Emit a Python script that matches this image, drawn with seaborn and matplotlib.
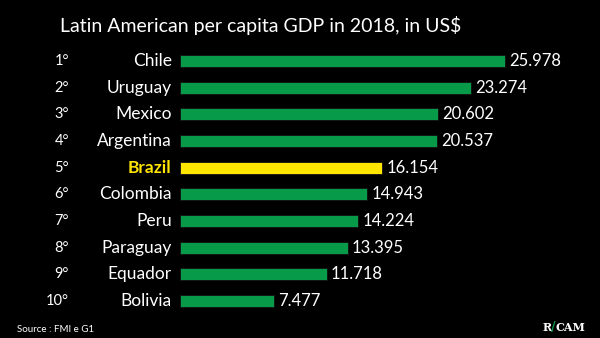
import matplotlib
matplotlib.use("Agg")
import matplotlib.pyplot as plt
import seaborn as sns
import pandas as pd

countries = ["Chile", "Uruguay", "Mexico", "Argentina", "Brazil", "Colombia",
             "Peru", "Paraguay", "Equador", "Bolivia"]
gdp = [25978, 23274, 20602, 20537, 16154, 14943, 14224, 13395, 11718, 7477]
value_labels = ["25.978", "23.274", "20.602", "20.537", "16.154", "14.943",
                "14.224", "13.395", "11.718", "7.477"]
ranks = ["1°", "2°", "3°", "4°", "5°", "6°", "7°", "8°", "9°", "10°"]
highlight = "Brazil"

GREEN = "#079A48"
YELLOW = "#FFE500"

df = pd.DataFrame({"country": countries, "gdp": gdp})
df["group"] = ["hi" if c == highlight else "lo" for c in countries]

sns.set_theme(style="dark")
plt.rcParams["font.family"] = ["Lato", "DejaVu Sans"]

fig = plt.figure(figsize=(6, 3.38), dpi=100, facecolor="black")
ax = fig.add_axes([0.30, 0.070, 0.70, 0.789])
ax.set_facecolor("black")

sns.barplot(data=df, y="country", x="gdp", hue="group",
            palette={"hi": YELLOW, "lo": GREEN}, order=countries,
            orient="h", width=0.45, legend=False, ax=ax, dodge=False,
            saturation=1, edgecolor="#111111", linewidth=0.6)

ax.set_xlim(0, 33570)
ax.set_ylim(len(countries) - 0.5, -0.5)
ax.set_xlabel("")
ax.set_ylabel("")
ax.set_xticks([])
ax.set_yticks([])
for s in ax.spines.values():
    s.set_visible(False)

for i, (c, v, lab, r) in enumerate(zip(countries, gdp, value_labels, ranks)):
    is_hi = c == highlight
    ax.text(v + 350, i, lab, va="center", ha="left", color="white", fontsize=12)
    ax.annotate(c, xy=(0, i), xycoords=("axes fraction", "data"),
                xytext=(-6, 0), textcoords="offset points",
                ha="right", va="center", fontsize=12.5,
                color=YELLOW if is_hi else "white",
                fontweight="bold" if is_hi else "normal")
    ax.annotate(r, xy=(0, i), xycoords=("axes fraction", "data"),
                xytext=(-80, 0), textcoords="offset points",
                ha="right", va="center", fontsize=10.5, color="white")

fig.text(0.435, 0.925, "Latin American per capita GDP in 2018, in US$",
         ha="center", va="center", color="white", fontsize=14)
fig.text(0.028, 0.025, "Source : FMI e G1", ha="left", va="center",
         color="white", fontsize=7)
fig.text(0.905, 0.030, "R", ha="left", va="center", color="white",
         fontsize=8, fontweight="bold", family="DejaVu Serif")
fig.text(0.918, 0.030, "/", ha="left", va="center", color=GREEN,
         fontsize=9, fontweight="bold", family="DejaVu Serif")
fig.text(0.926, 0.030, "CAM", ha="left", va="center", color="white",
         fontsize=8, fontweight="bold", family="DejaVu Serif")

fig.savefig("out.png", dpi=100, facecolor="black")
